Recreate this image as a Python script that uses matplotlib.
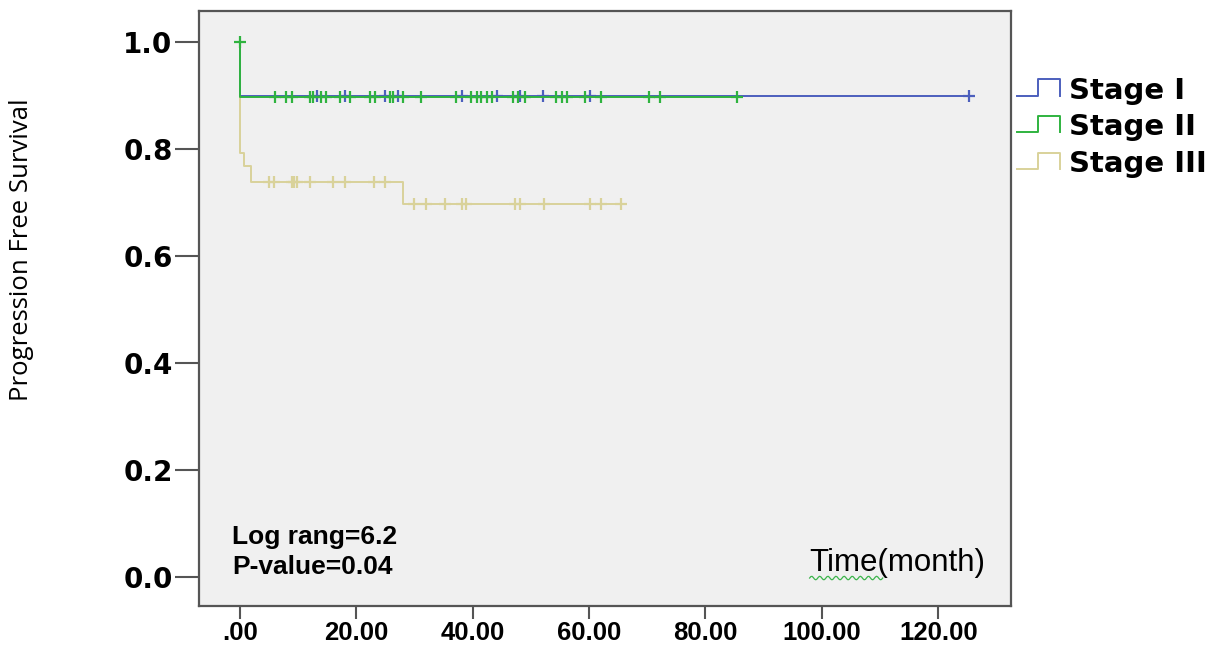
import numpy as np
import matplotlib
matplotlib.use('Agg')
import matplotlib.pyplot as plt
from matplotlib.lines import Line2D
from matplotlib.legend_handler import HandlerBase

# Kaplan-Meier data (time in months)
stage_names = ['Stage I', 'Stage II', 'Stage III']
colors = ['#4c5fbd', '#2fb33f', '#d9d29a']

# event times and survival after each event
events_1 = [0.0]
surv_1 = [0.900]
censor_1 = [13.3, 18.0, 25.0, 27.2, 38.1, 44.2, 48.1, 52.1, 60.2, 125.3]

events_2 = [0.0]
surv_2 = [0.897]
censor_2 = [0.0, 6.0, 8.0, 8.9, 12.0, 12.6, 14.0, 14.9, 17.2, 18.9, 22.3, 23.2,
            25.8, 26.3, 28.1, 31.2, 37.2, 39.8, 40.7, 41.5, 42.4, 43.3, 47.0,
            47.8, 49.0, 54.4, 55.3, 56.2, 59.3, 62.1, 70.3, 72.2, 85.5]

events_3 = [0.0, 0.75, 2.0, 28.0]
surv_3 = [0.793, 0.769, 0.738, 0.698]
censor_3 = [5.0, 5.8, 8.9, 9.3, 9.9, 12.0, 16.0, 18.0, 23.0, 25.0,
            30.0, 32.0, 35.2, 38.1, 38.9, 47.3, 48.1, 52.2, 60.1, 62.1, 65.5]

xticks = [0, 20, 40, 60, 80, 100, 120]
xtick_labels = ['.00', '20.00', '40.00', '60.00', '80.00', '100.00', '120.00']
yticks = [0.0, 0.2, 0.4, 0.6, 0.8, 1.0]
ytick_labels = ['0.0', '0.2', '0.4', '0.6', '0.8', '1.0']

narrow = ['Liberation Sans Narrow', 'Liberation Sans', 'DejaVu Sans']

fig = plt.figure(figsize=(12.16, 6.46), dpi=100)
ax = fig.add_axes([199/1216, 40/646, 812/1216, 595/646])
ax.set_facecolor('#f0f0f0')


def km_curve(ev, sv, cens):
    end = max(max(ev), max(cens))
    x = [0.0] + list(ev) + [end]
    y = [1.0] + list(sv) + [sv[-1]]
    # censor marks sit on the level reached before that time
    steps = np.array([1.0] + list(sv))
    idx = np.searchsorted(np.array(ev), np.array(cens), side='left')
    return x, y, np.array(cens), steps[idx]


data = [(events_1, surv_1, censor_1), (events_2, surv_2, censor_2), (events_3, surv_3, censor_3)]
# stage III underneath, then stage I, stage II on top
for i in [2, 0, 1]:
    ev, sv, cens = data[i]
    x, y, cx, cy = km_curve(ev, sv, cens)
    ax.step(x, y, where='post', color=colors[i], lw=1.4)
    ax.plot(cx, cy, ls='none', marker='+', ms=9, mew=1.6, color=colors[i])

ax.set_xlim(-7.0, 132.5)
ax.set_ylim(-0.054, 1.058)

ax.set_xticks(xticks)
ax.set_xticklabels(xtick_labels, family=narrow, fontweight='bold', fontsize=18.5)
ax.set_yticks(yticks)
ax.set_yticklabels(ytick_labels, family='DejaVu Sans', fontweight='bold', fontsize=20)
ax.tick_params(axis='y', length=17, width=1.5, color='#555555', pad=2)
ax.tick_params(axis='x', length=9, width=1.5, color='#555555', pad=1.5)
for s in ax.spines.values():
    s.set_color('#555555')
    s.set_linewidth(1.6)

fig.text(22/1216, 1 - 250/646, 'Progression Free Survival', rotation=90,
         ha='center', va='center', family='Open Sans', fontsize=18.5)

ax.text(0.0406, 0.116, 'Log rang=6.2', transform=ax.transAxes, va='center',
        family=narrow, fontweight='bold', fontsize=19)
ax.text(0.0406, 0.0655, 'P-value=0.04', transform=ax.transAxes, va='center',
        family=narrow, fontweight='bold', fontsize=19)
ax.text(0.752, 0.0723, 'Time(month)', transform=ax.transAxes, va='center',
        family=narrow, fontsize=22.5)

# green spell-check squiggle under "Time"
sq_x = np.linspace(0.752, 0.842, 60)
sq_y = 0.047 + 0.003 * np.sin(np.linspace(0, 18 * np.pi, 60))
ax.plot(sq_x, sq_y, transform=ax.transAxes, color='#3cb44b', lw=0.9)


class StepHandler(HandlerBase):
    def create_artists(self, legend, orig, xd, yd, w, h, fontsize, trans):
        xs = np.array([0, 0.5, 0.5, 1.0, 1.0]) * w - xd
        ys = np.array([0.1, 0.1, 1.0, 1.0, 0.1]) * h - yd
        ln = Line2D(xs, ys, color=orig.get_color(), lw=1.4, transform=trans)
        return [ln]


handles = [Line2D([], [], color=c) for c in colors]
fig.legend(handles, stage_names, handler_map={Line2D: StepHandler()},
           loc='upper left', bbox_to_anchor=(1002/1216, 1 - 62/646),
           frameon=False, borderpad=0, handlelength=1.5, handleheight=0.6,
           handletextpad=0.3, labelspacing=0.3,
           prop={'family': 'DejaVu Sans', 'weight': 'bold', 'size': 21})

fig.savefig('out.png', dpi=100)
